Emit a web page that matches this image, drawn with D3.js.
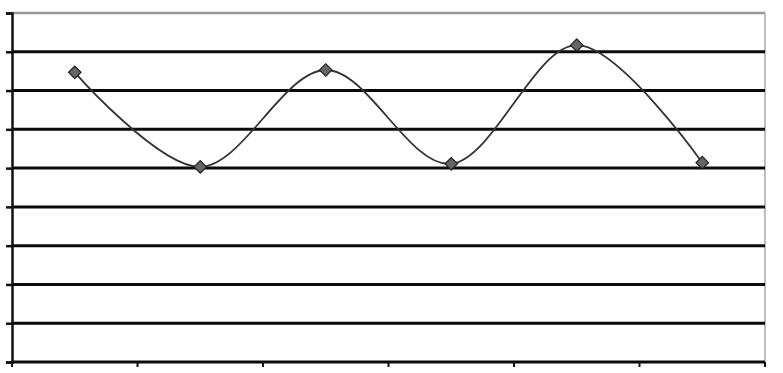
<!DOCTYPE html>
<html>
<head>
<meta charset="utf-8">
<script src="https://cdn.jsdelivr.net/npm/d3@7"></script>
<style>
	body { margin: 0; background: #fff; }
</style>
</head>
<body>
<div id="chart"></div>
<script>
let width = 783
let height = 373

let margins = {
	'top' : 13,
	'right' : 18,
	'bottom' : 11,
	'left' : 12,
}

// six categories, no labels printed on the original
let categories = ['1', '2', '3', '4', '5', '6']
let values = [7.47, 5.03, 7.53, 5.11, 8.17, 5.14]
let yTicks = [0, 1, 2, 3, 4, 5, 6, 7, 8, 9]

let innerW = width - margins.left - margins.right
let innerH = height - margins.top - margins.bottom

let xScale = d3.scaleBand()
	.domain(categories)
	.range([0, innerW])

let yScale = d3.scaleLinear()
	.domain([0, 9])
	.range([innerH, 0])

let svg = d3.select('#chart').append('svg')
	.attr('width', width)
	.attr('height', height)

let inner = svg.append('g')
	.attr('transform', `translate(${margins.left},${margins.top})`)

// plot frame: grey top and right edges
inner.append('line')
	.attr('x1', 0).attr('x2', innerW)
	.attr('y1', yScale(9)).attr('y2', yScale(9))
	.attr('stroke', '#999')
	.attr('stroke-width', 2.5)

inner.append('line')
	.attr('x1', innerW).attr('x2', innerW)
	.attr('y1', 0).attr('y2', innerH)
	.attr('stroke', '#a8a8a8')
	.attr('stroke-width', 1.5)

// gridlines
inner.append('g')
	.selectAll('line')
	.data(yTicks.filter((d) => d > 0 && d < 9))
	.enter()
	.append('line')
	.attr('x1', 0)
	.attr('x2', innerW)
	.attr('y1', (d) => yScale(d))
	.attr('y2', (d) => yScale(d))
	.attr('stroke', '#0a0a0a')
	.attr('stroke-width', 3)

// y axis
let yAxis = d3.axisLeft(yScale)
	.tickValues(yTicks)
	.tickSize(6)
	.tickFormat('')

let yG = inner.append('g').call(yAxis)
yG.select('.domain').attr('stroke', '#111').attr('stroke-width', 2.5)
yG.selectAll('.tick line').attr('stroke', '#111').attr('stroke-width', 2.5)

// x axis: ticks sit on the band boundaries
let xG = inner.append('g')
	.attr('transform', `translate(0,${innerH})`)

xG.append('line')
	.attr('x1', 0).attr('x2', innerW)
	.attr('stroke', '#0a0a0a')
	.attr('stroke-width', 3)

let bounds = categories.map((c) => xScale(c)).concat([innerW])

xG.selectAll('.xtick')
	.data(bounds)
	.enter()
	.append('line')
	.attr('class', 'xtick')
	.attr('x1', (d) => d)
	.attr('x2', (d) => d)
	.attr('y1', 0)
	.attr('y2', 5)
	.attr('stroke', '#111')
	.attr('stroke-width', 2)

// smoothed series
let line = d3.line()
	.x((d, i) => xScale(categories[i]) + xScale.bandwidth() / 2)
	.y((d) => yScale(d))
	.curve(d3.curveCardinal.tension(0))

inner.append('path')
	.datum(values)
	.attr('d', line)
	.attr('fill', 'none')
	.attr('stroke', '#333')
	.attr('stroke-width', 1.8)

let marker = d3.symbol().type(d3.symbolSquare).size(78)

inner.append('g')
	.selectAll('path')
	.data(values)
	.enter()
	.append('path')
	.attr('d', marker)
	.attr('transform', (d, i) => `translate(${xScale(categories[i]) + xScale.bandwidth() / 2},${yScale(d)}) rotate(45)`)
	.attr('fill', '#666')
	.attr('stroke', '#222')
	.attr('stroke-width', 1.2)
</script>
</body>
</html>
